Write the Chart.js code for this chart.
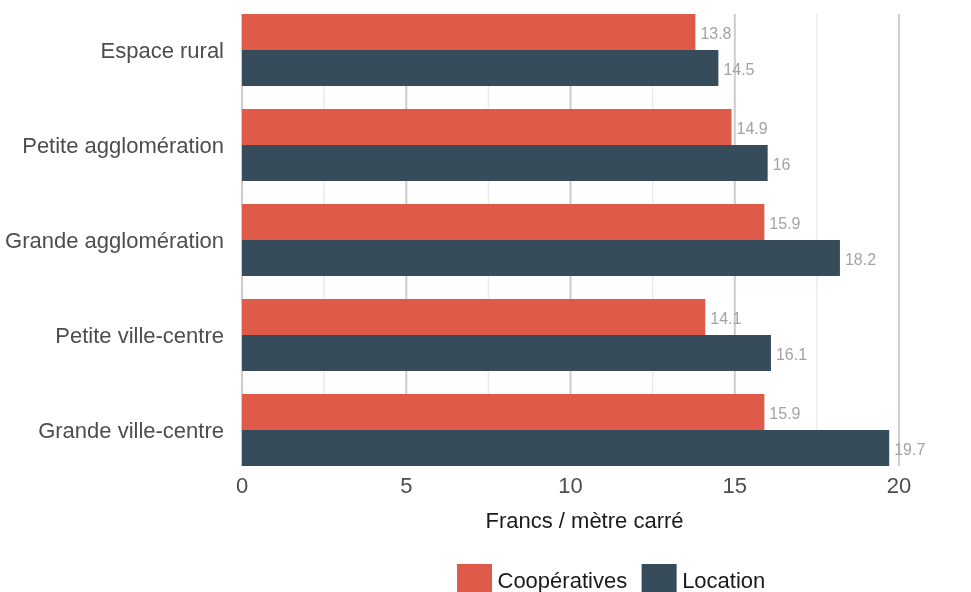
<!DOCTYPE html>
<html>
<head>
<meta charset="utf-8">
<script src="https://cdn.jsdelivr.net/npm/chart.js@4"></script>
<style>
html,body{margin:0;padding:0;background:#ffffff;}
canvas{display:block;}
</style>
</head>
<body>
<canvas id="chart" width="971" height="592"></canvas>
<script>
// ---- data ----
const categories = ['Espace rural', 'Petite agglomération', 'Grande agglomération', 'Petite ville-centre', 'Grande ville-centre'];
const seriesNames = ['Coopératives', 'Location'];
const cooperativesValues = [13.8, 14.9, 15.9, 14.1, 15.9];
const locationValues = [14.5, 16, 18.2, 16.1, 19.7];
const xTickLabels = [0, 5, 10, 15, 20];
const xAxisTitle = 'Francs / mètre carré';

// ---- styles ----
const FONT = "'Liberation Sans', Arial, Helvetica, sans-serif";
const RED = '#E05A4A';
const BLUE = '#364C5B';

Chart.defaults.font.family = FONT;

const gridPlugin = {
  id: 'customGrid',
  beforeDatasetsDraw(chart) {
    const {ctx, scales: {x}} = chart;
    const first = chart.getDatasetMeta(0).data[0];
    const last = chart.getDatasetMeta(1).data[categories.length - 1];
    const top = first.y - first.height / 2;
    const bottom = last.y + last.height / 2;
    ctx.save();
    x.ticks.forEach(t => {
      const major = xTickLabels.includes(t.value);
      const px = x.getPixelForValue(t.value);
      ctx.beginPath();
      ctx.strokeStyle = major ? '#cccccc' : '#ececec';
      ctx.lineWidth = major ? 2 : 1.5;
      ctx.moveTo(px, top);
      ctx.lineTo(px, bottom);
      ctx.stroke();
    });
    ctx.restore();
  }
};

const valueLabelPlugin = {
  id: 'valueLabels',
  afterDatasetsDraw(chart) {
    const {ctx} = chart;
    ctx.save();
    ctx.font = '16px ' + FONT;
    ctx.fillStyle = '#a3a3a3';
    ctx.textAlign = 'left';
    ctx.textBaseline = 'middle';
    chart.data.datasets.forEach((ds, i) => {
      chart.getDatasetMeta(i).data.forEach((el, j) => {
        ctx.fillText(String(ds.data[j]), el.x + 5, el.y + 3);
      });
    });
    ctx.restore();
  }
};

// legend square drawn as 24px box + 11px same-colour stroke => 35px visual square
const LEGEND_BOX = 24;
const LEGEND_STROKE = 11;
const LEGEND_PAD = 20;

const legendPlacePlugin = {
  id: 'legendPlace',
  afterLayout(chart) {
    const lg = chart.legend;
    if (!lg) return;
    const h = lg.height;
    const firstX = 457 + LEGEND_STROKE / 2;
    const firstY = 564 + LEGEND_STROKE / 2;
    lg.left = firstX - LEGEND_PAD;
    lg.right = 971;
    lg.top = firstY - LEGEND_PAD;
    lg.bottom = lg.top + h;
  }
};

new Chart(document.getElementById('chart'), {
  type: 'bar',
  data: {
    labels: categories,
    datasets: [
      {
        label: seriesNames[0],
        data: cooperativesValues,
        backgroundColor: RED,
        borderWidth: 0,
        categoryPercentage: 72 / 95,
        barPercentage: 1
      },
      {
        label: seriesNames[1],
        data: locationValues,
        backgroundColor: BLUE,
        borderWidth: 0,
        categoryPercentage: 72 / 95,
        barPercentage: 1
      }
    ]
  },
  options: {
    indexAxis: 'y',
    responsive: false,
    animation: false,
    devicePixelRatio: 1,
    layout: {padding: {left: 0, right: 44, top: 2.5, bottom: 2.8}},
    scales: {
      x: {
        type: 'linear',
        min: 0,
        max: 20.85,
        grid: {display: false, drawTicks: false},
        border: {display: false},
        ticks: {
          stepSize: 2.5,
          includeBounds: false,
          autoSkip: false,
          maxRotation: 0,
          padding: -4,
          color: '#4d4d4d',
          font: {size: 22},
          callback: v => xTickLabels.includes(v) ? String(v) : ''
        },
        title: {
          display: true,
          text: xAxisTitle,
          color: '#1a1a1a',
          font: {size: 22},
          padding: {top: 0, bottom: 0}
        },
        afterFit(s) { s.height = 57.7; s.paddingLeft = 0; s.paddingRight = 0; }
      },
      y: {
        type: 'category',
        offset: true,
        grid: {display: false, drawTicks: false},
        border: {display: false},
        ticks: {
          padding: 18,
          labelOffset: 2,
          color: '#4d4d4d',
          font: {size: 22}
        },
        afterFit(s) { s.width = 242; s.paddingTop = 0; s.paddingBottom = 0; }
      }
    },
    plugins: {
      tooltip: {enabled: false},
      legend: {
        position: 'bottom',
        align: 'start',
        labels: {
          boxWidth: LEGEND_BOX,
          boxHeight: LEGEND_BOX,
          padding: LEGEND_PAD,
          color: '#1a1a1a',
          font: {size: 22},
          generateLabels(chart) {
            const items = Chart.defaults.plugins.legend.labels.generateLabels(chart);
            items.forEach(it => {
              it.lineWidth = LEGEND_STROKE;
              it.strokeStyle = it.fillStyle;
              it.lineJoin = 'miter';
            });
            return items;
          }
        }
      }
    }
  },
  plugins: [gridPlugin, valueLabelPlugin, legendPlacePlugin]
});
</script>
</body>
</html>
